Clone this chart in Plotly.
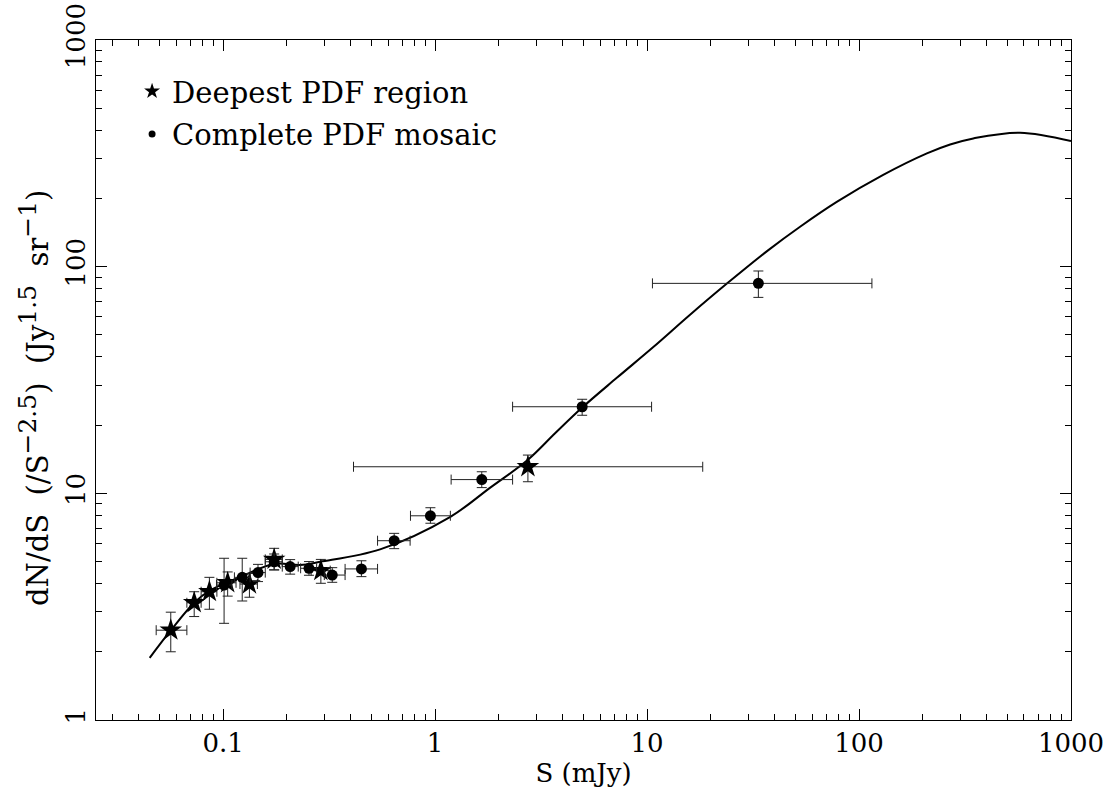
import plotly.graph_objects as go

# ---- Data ----
# Model curve (S in mJy, dN/dS)
curve_s = [0.045, 0.0567, 0.073, 0.086, 0.12, 0.174, 0.231, 0.287, 0.55, 1.18, 1.82, 2.75,
           3.68, 4.94, 7.22, 10.7, 15.9, 23.8, 37.2, 52.7, 78.5, 130, 209, 269, 346, 575, 1000]
curve_n = [1.88, 2.49, 3.29, 3.71, 4.27, 4.88, 4.83, 4.99, 5.66, 7.88, 10.6, 14.1,
           18.4, 23.9, 32.4, 44.2, 61.2, 84.2, 118, 150, 193, 254, 316, 346, 368, 390, 358]

# Deepest PDF region (stars)
deep_s = [0.0566, 0.0730, 0.0861, 0.105, 0.133, 0.174, 0.289, 2.74]
deep_n = [2.49, 3.29, 3.68, 4.03, 3.98, 5.11, 4.56, 13.1]
deep_s_lo = [0.0483, 0.0674, 0.0787, 0.0934, 0.120, 0.158, 0.260, 0.412]
deep_s_hi = [0.0674, 0.0787, 0.0934, 0.115, 0.145, 0.190, 0.320, 18.3]
deep_n_lo = [2.00, 2.86, 3.08, 3.52, 3.48, 4.59, 4.01, 11.25]
deep_n_hi = [2.99, 3.68, 4.26, 4.50, 4.43, 5.72, 5.11, 14.75]

# Complete PDF mosaic (dots)
comp_s = [0.101, 0.123, 0.146, 0.174, 0.207, 0.254, 0.327, 0.449, 0.641, 0.95, 1.66, 4.94, 33.5]
comp_n = [3.94, 4.26, 4.47, 4.99, 4.75, 4.67, 4.36, 4.64, 6.18, 7.96, 11.5, 24.1, 84.4]
comp_s_lo = [0.093, 0.113, 0.134, 0.158, 0.190, 0.232, 0.300, 0.376, 0.535, 0.765, 1.19, 2.32, 10.6]
comp_s_hi = [0.110, 0.134, 0.158, 0.190, 0.226, 0.276, 0.376, 0.535, 0.762, 1.18, 2.32, 10.5, 115]
comp_n_lo = [2.67, 3.35, 4.08, 4.60, 4.40, 4.35, 4.05, 4.29, 5.70, 7.38, 10.6, 22.1, 73.2]
comp_n_hi = [5.17, 5.17, 4.86, 5.40, 5.10, 5.00, 4.70, 5.04, 6.66, 8.64, 12.45, 26.0, 95.7]

x_tickvals = [0.1, 1, 10, 100, 1000]
x_ticktext = ["0.1", "1", "10", "100", "1000"]
y_tickvals = [1, 10, 100, 1000]
y_ticktext = ["1", "10", "100", "1000"]

legend_names = ["Deepest PDF region", "Complete PDF mosaic"]
x_title = "S (mJy)"
SUP = '<span style="font-size:25px">'
SP = "\u00a0\u00a0"
y_title = ("dN/dS" + SP + "(/S<sup>" + SUP + "\u22122.5</span></sup>)" + SP + "(Jy<sup>" + SUP +
           "1.5</span></sup>" + SP + "sr<sup>" + SUP + "\u22121</span></sup>)")

FONT = "DejaVu Serif"


def err(vals, lo, hi):
    plus = [h - v for v, h in zip(vals, hi)]
    minus = [v - l for v, l in zip(vals, lo)]
    return plus, minus


fig = go.Figure()

fig.add_trace(go.Scatter(x=curve_s, y=curve_n, mode="lines",
                         line=dict(color="black", width=2, shape="spline", smoothing=1.0),
                         showlegend=False, hoverinfo="skip"))

ebar = dict(color="#222222", thickness=1, width=5)

dxp, dxm = err(deep_s, deep_s_lo, deep_s_hi)
dyp, dym = err(deep_n, deep_n_lo, deep_n_hi)
fig.add_trace(go.Scatter(x=deep_s, y=deep_n, mode="markers",
                         marker=dict(symbol="star", size=17, color="black"),
                         error_x=dict(type="data", array=dxp, arrayminus=dxm, **ebar),
                         error_y=dict(type="data", array=dyp, arrayminus=dym, **ebar),
                         showlegend=False))

cxp, cxm = err(comp_s, comp_s_lo, comp_s_hi)
cyp, cym = err(comp_n, comp_n_lo, comp_n_hi)
fig.add_trace(go.Scatter(x=comp_s, y=comp_n, mode="markers",
                         marker=dict(symbol="circle", size=11, color="black"),
                         error_x=dict(type="data", array=cxp, arrayminus=cxm, **ebar),
                         error_y=dict(type="data", array=cyp, arrayminus=cym, **ebar),
                         showlegend=False))

# legend-only entries
fig.add_trace(go.Scatter(x=[None], y=[None], mode="markers", name=legend_names[0],
                         legendgroup="a",
                         marker=dict(symbol="star", size=12, color="black")))
fig.add_trace(go.Scatter(x=[None], y=[None], mode="markers", name=legend_names[1],
                         legendgroup="b",
                         marker=dict(symbol="circle", size=7, color="black")))

axis_common = dict(
    showline=True, linecolor="black", linewidth=1, mirror="ticks",
    ticks="inside", ticklen=11, tickcolor="black", tickwidth=1,
    showgrid=False, zeroline=False, automargin=False,
    minor=dict(ticks="inside", ticklen=6, tickcolor="black", tickwidth=1,
               dtick="D1", showgrid=False),
    tickfont=dict(family=FONT, size=26, color="black"),
)

fig.update_xaxes(type="log", range=[-1.6, 3], tickmode="array",
                 tickvals=x_tickvals, ticktext=x_ticktext,
                 title=dict(text=x_title, font=dict(family=FONT, size=26, color="black"),
                            standoff=2),
                 **axis_common)
fig.update_yaxes(type="log", range=[0, 3], tickmode="array",
                 tickvals=y_tickvals, ticktext=y_ticktext, tickangle=-90,
                 **axis_common)

fig.add_annotation(text=y_title, xref="paper", yref="paper", x=0, y=0.4735,
                   xanchor="center", yanchor="middle", xshift=-62, textangle=-90,
                   showarrow=False, font=dict(family=FONT, size=29, color="black"))

fig.update_layout(
    width=1115, height=796,
    margin=dict(l=96, r=44, t=40, b=76),
    paper_bgcolor="white", plot_bgcolor="white",
    showlegend=True,
    legend=dict(x=0.037, y=0.962, xanchor="left", yanchor="top",
                font=dict(family=FONT, size=29, color="black"),
                bgcolor="rgba(0,0,0,0)", itemsizing="trace", tracegroupgap=2),
    font=dict(family=FONT, color="black"),
)

fig.write_html("out.html")
